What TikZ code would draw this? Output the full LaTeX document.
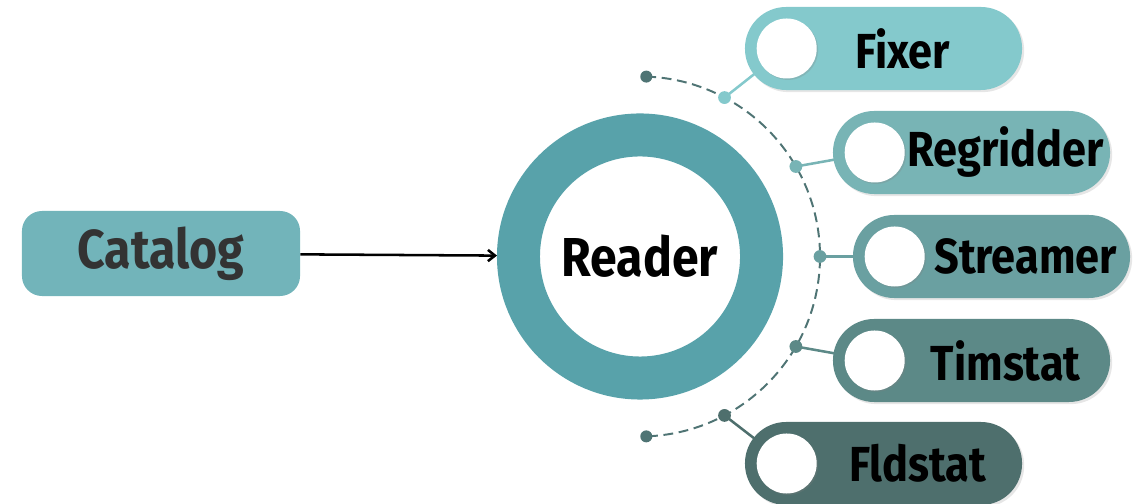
\documentclass[tikz,border=0pt]{standalone}
\usepackage{fontspec}
\newfontfamily\labelfont[FakeStretch=0.88]{Fira Sans}
\usetikzlibrary{positioning,arrows.meta,shadows,backgrounds}

\definecolor{catalogcol}{HTML}{72B4BA}
\definecolor{ringcol}{HTML}{58A2AA}
\definecolor{fixercol}{HTML}{84C9CC}
\definecolor{regriddercol}{HTML}{78B4B5}
\definecolor{streamercol}{HTML}{6AA0A1}
\definecolor{timstatcol}{HTML}{5C8987}
\definecolor{fldstatcol}{HTML}{4E6F6D}
\definecolor{arccol}{HTML}{4F7474}
\definecolor{textgray}{HTML}{333333}

\begin{document}
\begin{tikzpicture}[x=0.025cm,y=0.025cm,
  pill/.style={rectangle,rounded corners=1.03cm,minimum width=6.925cm,minimum height=2.075cm,inner sep=0pt,
    drop shadow={shadow xshift=1.5pt,shadow yshift=-1.5pt,opacity=0.2}},
  hole/.style={circle,fill=white,minimum size=1.5cm,inner sep=0pt,
    drop shadow={shadow xshift=1pt,shadow yshift=-1pt,opacity=0.25}},
  txt/.style={font=\labelfont\bfseries\fontsize{35}{40}\selectfont,inner sep=0pt},
  bigtxt/.style={font=\labelfont\bfseries\fontsize{39}{44}\selectfont,inner sep=0pt},
  knob/.style={circle,inner sep=0pt,minimum size=0.32cm}]
\useasboundingbox (0,0) rectangle (1135,504);

% catalog and reader
\node [rectangle,rounded corners=0.5cm,fill=catalogcol,minimum width=6.95cm,minimum height=2.125cm,
  bigtxt,text=textgray] (catalog) at (161,250.5) {Catalog};
\node [circle,draw=ringcol,fill=white,line width=1.075cm,minimum size=6.075cm,bigtxt] (reader) at (640,247.5) {Reader};
\draw [line width=1.8pt,-{Straight Barb[length=5pt,width=8pt]}] (catalog) -- (reader);

% dashed arc with end dots
\draw [arccol,line width=1.4pt,dash pattern=on 7pt off 4pt] (reader.center) ++(88:180) arc[start angle=88,end angle=-88,radius=180];
\fill [arccol] (reader.center) ++(88:180) circle (0.15cm);
\fill [arccol] (reader.center) ++(-88:180) circle (0.15cm);

% modules
\foreach \n/\crlr/\ang/\x/\y/\off in {Fixer/fixercol/62/883.5/455.5/3.95,
    Regridder/regriddercol/30/971.5/351.5/4.325,
    Streamer/streamercol/0/991.5/247.5/4.325,
    Timstat/timstatcol/-30/971.5/143.5/4.325,
    Fldstat/fldstatcol/-62/883.5/40.5/4.325}
{
  \node [pill,fill=\crlr] (p\n) at (\x,\y) {};
  \node [hole] (c\n) at ([xshift=1.05cm]p\n.west) {};
  \node [txt] (t\n) at ([xshift=\off cm]p\n.west) {\n};
  \path (reader.center) ++(\ang:180) node [knob,fill=\crlr] (k\n) {};
  \begin{scope}[on background layer]
    \draw [\crlr,line width=1.8pt] (k\n.center) -- (c\n.center);
  \end{scope}
}
\end{tikzpicture}
\end{document}
